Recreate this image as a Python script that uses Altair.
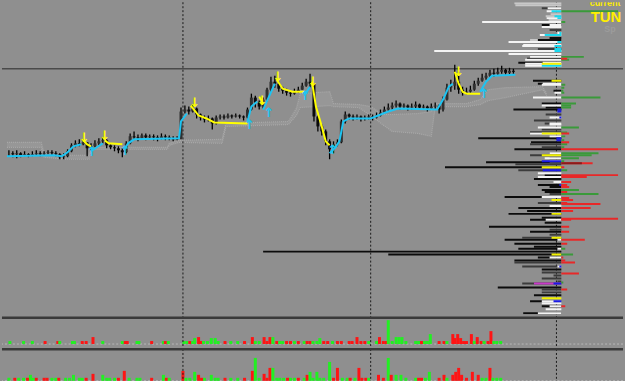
import altair as alt
import pandas as pd

# ---------------- data (price in points, time in slot units) ----------------
first_open = 168
close = [168,167,168,166,167,166,167,168,167,168,
         169,168,167,164,165,170,176,178,177,179,
         173,175,178,180,181,176,174,173,171,169,
         178,185,184,183,186,184,185,184,183,185,
         184,183,182,183,210,212,210,213,207,204,
         202,203,198,204,205,204,206,205,206,205,
         204,212,224,219,215,222,232,240,238,233,
         231,229,228,230,232,236,240,238,205,195,
         190,180,172,177,179,200,207,205,204,205,
         203,204,205,204,206,209,212,214,216,218,
         215,216,214,215,217,214,215,213,215,216,
         212,222,234,236,240,232,229,230,232,238,
         241,244,246,249,248,250,252,249,251,250]
high = [171,170,171,169,170,168,170,171,170,170,
        171,171,170,168,168,172,178,181,182,182,
        179,178,181,183,184,182,177,176,175,173,
        180,188,190,187,188,188,187,187,186,188,
        187,186,185,185,214,216,215,217,214,208,
        206,206,204,206,207,207,208,207,208,207,
        206,214,228,226,221,224,234,245,246,240,
        235,233,231,233,235,239,243,248,238,206,
        197,192,182,180,182,202,210,208,207,207,
        206,206,207,207,209,212,215,218,219,221,
        219,218,217,218,220,218,217,216,218,219,
        217,225,238,242,257,250,235,234,236,241,
        244,248,249,252,253,254,256,253,254,253]
low = [165,164,163,164,165,164,165,166,165,166,
       167,166,165,162,162,164,169,174,175,176,
       165,171,174,176,178,173,172,170,168,164,
       168,177,182,180,182,181,182,181,180,182,
       181,181,180,181,182,208,207,209,203,201,
       199,200,192,197,202,202,203,203,204,203,
       201,203,211,214,212,213,220,230,234,230,
       228,226,225,227,229,232,235,234,200,190,
       186,176,162,168,175,178,198,202,201,202,
       200,201,202,201,203,205,208,210,212,214,
       212,213,211,212,213,212,212,210,212,212,
       208,210,221,230,232,228,226,227,229,231,
       236,240,242,244,245,246,248,246,247,248]
candle_t = list(range(2, 522, 4))

# trailing line: (t, price, segment)
trail_points = [
    (0,165,0),(48,166,0),(56,165,0),(62,169,0),(68,175,0),(76,177,0),
    (78,181,1),(82,177,1),(86,175,1),
    (86,170,2),(92,174,2),(98,178,2),
    (100,181,3),(104,178,3),(118,177,3),
    (120,172,4),(124,178,4),(130,182,4),(176,183,4),(178,200,4),(184,208,4),
    (188,216,5),(196,206,5),(204,203,5),(212,199,5),(246,198,5),
    (246,200,6),(250,215,6),(256,220,6),
    (258,225,7),(262,218,7),
    (262,212,8),(268,225,8),(274,238,8),
    (276,242,9),(282,233,9),(292,230,9),(304,230,9),
    (304,226,10),(310,235,10),
    (312,240,11),(316,215,11),(322,195,11),(326,180,11),(330,176,11),
    (330,168,12),(336,174,12),(340,180,12),(344,200,12),(350,203,12),(372,203,12),
    (390,210,12),(400,213,12),(440,212,12),(446,222,12),(452,235,12),(456,238,12),
    (458,250,13),(462,238,13),(466,230,13),(470,228,13),(484,228,13),
    (484,230,14),(490,240,14),(496,246,14),(520,247,14),
]
trail_seg_color = ["#1ec4f2", "#ffff00"] * 7 + ["#1ec4f2"]

arrows_down = [(79,183),(100,185),(192,219),(261,221),(277,245),(313,240),(462,250)]
arrows_up = [(87,169),(121,170),(248,196),(268,208),(305,226),(333,171),(488,228)]

# cloud (t, span A, span B)
cloud_t = [0,35,38,60,84,86,164,166,176,220,224,288,296,300,330,334,360,372,384,394,420,434,438,470,484,492,510,548,552]
cloud_a = [179,179,168,166,166,174,174,178,181,182,198,200,213,228,230,218,217,215,207,207,208,210,218,218,222,232,234,235,228]
cloud_b = [174,174,164,162,162,172,172,176,179,178,195,197,206,214,216,215,214,206,197,190,188,185,215,215,217,221,224,232,226]

hline_price = [253]
vline_t = [180, 372, 562]
profile_edge = 567

# volume profile, left side: (price level, start)
prof_lightgray = [(319,519),(317,520),(308,556),(306,551),(302,554),(282,535)]
prof_black = [(297,547),(284,555),(282,543),(280,543),(263,532),(259,523),(241,538),(238,543),
              (231,559),(218,547),(214,551),(212,518),(189,535),(183,482),(179,536),(172,519),
              (163,555),(159,490),(154,448),(146,550),(142,539),(136,543),(134,555),(131,547),
              (129,550),(124,509),(113,523),(110,532),(107,513),(103,547),(101,535),(98,550),
              (94,493),(89,535),(81,509),(77,519),(74,539),(72,523),(69,262),(66,390),(63,543),
              (60,519),(51,547),(33,502),(25,539),(19,535),(14,547),(7,528)]
prof_darkgray = [(314,547),(292,555),(273,543),(207,551),(201,539),(198,550),(192,547),(177,535),
                 (174,547),(168,555),(166,535),(157,520),(151,523),(127,555),(118,543),(91,555),
                 (86,555),(83,527),(58,519),(54,527),(48,547),(45,559),(42,547),(39,563),(37,527),
                 (31,547),(28,547)]
prof_white = [(314,553),(311,552),(304,552),(300,486),(297,555),(295,547),(289,563),(287,545),
              (280,513),(277,528),(276,527),(271,437),(268,513),(265,535),(262,530),(259,548),
              (258,530),(256,530),(238,548),(237,547),(229,560),(224,538),(216,547),(204,555),
              (198,555),(197,555),(194,543),(188,535),(185,555),(168,555),(163,550),(160,555),
              (148,543),(144,543),(139,559),(124,547),(115,555),(101,551),(81,563),(72,563),
              (63,555),(54,563),(19,547),(17,547),(14,555),(11,551),(7,543)]
prof_cyan = [(311,557),(306,560),(304,563),(289,565),(287,550),(280,563),(276,560),(273,560),(271,560),(256,547)]
prof_yellow = [(258,547),(241,557),(188,547),(166,547),(154,547),(121,557),(107,557),(83,557),(66,557),(22,547)]
prof_magenta = [(37,539)]
prof_blue = [(212,563),(210,563),(204,565),(183,562),(181,562),(160,547),(151,548),(136,565),(54,565),(37,559),(19,559)]

# volume profile, right side: (price level, end)
prof_right_green = [(311,625),(300,571),(265,590),(262,575),(237,571),(234,570),(231,569),(229,570),
                    (224,607),(218,582),(216,577),(214,577),(194,585),(189,573),(185,571),(181,570),
                    (177,573),(174,570),(168,605),(166,598),(163,585),(160,570),(151,573),(131,585),
                    (127,605),(72,571),(66,579),(38,569)]
prof_right_red = [(263,573),(188,575),(179,575),(172,625),(158,599),(154,570),(146,625),(144,593),
                  (139,577),(136,573),(134,575),(129,573),(123,575),(121,579),(118,573),(117,607),
                  (113,597),(110,579),(102,625),(101,577),(94,575),(89,575),(81,591),(77,573),
                  (63,569),(60,571),(58,581),(47,585),(31,573),(14,571)]
prof_right_darkred = [(158,588)]

# volume histograms: (t, volume, direction)
vol1 = [(3,3,"g"),(17,3,"g"),(26,3,"g"),(39,3,"r"),(52,3,"r"),(54,3,"g"),(67,3,"g"),(69,3,"g"),
        (77,3,"r"),(81,3,"r"),(88,7,"r"),(98,3,"g"),(118,3,"g"),(121,3,"r"),(123,3,"r"),(133,3,"g"),
        (135,3,"g"),(148,3,"r"),(160,3,"g"),(162,3,"r"),(165,3,"g"),(181,3,"g"),(184,3,"g"),(187,3,"r"),
        (190,3,"g"),(192,6,"g"),(196,7,"r"),(198,3,"r"),(201,3,"g"),(205,3,"g"),(209,6,"g"),(213,6,"g"),
        (216,3,"g"),(223,3,"r"),(229,3,"g"),(236,3,"g"),(243,3,"r"),(251,7,"r"),(254,3,"g"),(258,3,"g"),
        (263,7,"r"),(266,3,"r"),(269,7,"r"),(272,7,"g"),(276,3,"r"),(279,3,"g"),(282,3,"g"),(286,3,"r"),
        (290,3,"r"),(294,3,"g"),(298,3,"r"),(304,3,"g"),(307,3,"r"),(310,3,"r"),(313,3,"g"),(317,3,"g"),
        (320,6,"g"),(324,3,"r"),(328,3,"r"),(333,3,"g"),(338,3,"r"),(342,3,"r"),(350,3,"r"),(353,3,"r"),
        (358,7,"r"),(362,3,"r"),(366,3,"r"),(370,3,"g"),(378,3,"g"),(381,7,"r"),(385,3,"r"),(388,3,"r"),
        (390,24,"g"),(394,3,"g"),(398,7,"g"),(401,7,"g"),(404,7,"g"),(408,3,"g"),(418,3,"g"),(421,3,"g"),
        (424,3,"r"),(427,3,"g"),(430,3,"g"),(433,10,"g"),(442,3,"r"),(447,3,"r"),(450,3,"g"),(456,10,"r"),
        (458,6,"r"),(461,10,"r"),(464,6,"r"),(467,3,"r"),(470,3,"r"),(475,10,"r"),(478,3,"g"),(481,7,"r"),
        (485,3,"r"),(488,3,"g"),(492,3,"r"),(495,13,"r"),(498,3,"g"),(501,3,"g"),(505,3,"g")]
vol2 = [(2,3,"g"),(8,3,"r"),(12,3,"g"),(17,3,"g"),(21,3,"r"),(24,6,"g"),(27,3,"g"),(30,3,"r"),
        (38,3,"r"),(41,3,"r"),(46,3,"g"),(50,3,"g"),(53,3,"r"),(60,3,"g"),(64,3,"g"),(68,6,"g"),
        (74,3,"g"),(77,3,"g"),(81,3,"r"),(88,7,"r"),(98,6,"g"),(102,3,"g"),(105,3,"g"),(110,3,"g"),
        (114,3,"r"),(120,10,"r"),(125,3,"g"),(133,3,"g"),(136,3,"g"),(148,3,"r"),(160,6,"g"),(163,3,"r"),
        (166,3,"g"),(180,10,"r"),(183,3,"g"),(187,3,"g"),(192,9,"g"),(196,6,"r"),(199,3,"r"),(202,3,"g"),
        (209,6,"g"),(213,3,"g"),(216,3,"g"),(223,3,"r"),(229,3,"g"),(236,3,"g"),(243,3,"r"),(251,10,"r"),
        (254,23,"g"),(258,3,"g"),(263,7,"r"),(266,3,"r"),(269,13,"r"),(272,13,"g"),(276,3,"g"),(279,3,"g"),
        (283,3,"g"),(287,3,"r"),(290,3,"g"),(294,3,"g"),(298,3,"r"),(304,3,"g"),(307,6,"r"),(310,9,"g"),
        (313,3,"g"),(317,9,"g"),(320,3,"g"),(324,3,"g"),(330,19,"g"),(334,3,"r"),(338,13,"r"),(343,3,"g"),
        (348,3,"g"),(351,3,"r"),(356,3,"g"),(360,13,"r"),(363,3,"r"),(367,3,"r"),(370,3,"g"),(380,6,"r"),
        (385,3,"r"),(390,23,"g"),(393,6,"r"),(398,6,"g"),(403,6,"g"),(408,3,"g"),(418,3,"g"),(421,3,"r"),
        (424,3,"r"),(428,3,"g"),(432,9,"g"),(442,3,"r"),(447,6,"r"),(450,3,"g"),(456,6,"r"),(459,9,"r"),
        (462,13,"r"),(465,6,"r"),(470,3,"r"),(476,9,"r"),(482,6,"r"),(486,3,"g"),(490,3,"g"),(494,13,"r"),
        (497,3,"g"),(501,3,"g"),(505,3,"g")]

labels = [("current", 596, 316, "#ffee00", 9), ("TUN", 597, 300, "#ffee00", 15), ("Sp", 611, 290, "#9c9c9c", 9)]

# ---------------- chart ----------------
BG = "#8f8f8f"
W = 625
xs = alt.Scale(domain=[0, 625], nice=False, zero=False)
ys = alt.Scale(domain=[6, 320], nice=False, zero=False)


def X(f):
    return alt.X(f, type="quantitative", scale=xs, axis=None)


def Y(f, s=ys):
    return alt.Y(f, type="quantitative", scale=s, axis=None)


opens = [first_open] + close[:-1]
cdf = pd.DataFrame({"t": candle_t, "o": opens, "c": close, "h": high, "l": low})
cdf["h"] = cdf[["h", "o", "c"]].max(axis=1)
cdf["l"] = cdf[["l", "o", "c"]].min(axis=1)
cdf["col"] = ["#303030" if c >= o else "#0a0a0a" for o, c in zip(cdf["o"], cdf["c"])]

cloud_df = pd.DataFrame({"t": cloud_t, "a": cloud_a, "b": cloud_b})
cloud_area = alt.Chart(cloud_df).mark_area(color="#a2a2a2", opacity=0.45).encode(
    x=X("t"), y=Y("a"), y2="b")
cloud_l1 = alt.Chart(cloud_df).mark_line(color="#a9a9a9", strokeWidth=1.2, strokeDash=[1, 1]).encode(
    x=X("t"), y=Y("a"))
cloud_l2 = alt.Chart(cloud_df).mark_line(color="#a9a9a9", strokeWidth=1.2, strokeDash=[1, 1]).encode(
    x=X("t"), y=Y("b"))

hline = alt.Chart(pd.DataFrame({"p": hline_price})).mark_rule(color="#4a4a4a", strokeWidth=1.5).encode(y=Y("p"))

vl_df = pd.DataFrame({"t": vline_t})


def vlines():
    return alt.Chart(vl_df).mark_rule(color="#1a1a1a", strokeWidth=1, strokeDash=[2, 2]).encode(x=X("t"))


wick = alt.Chart(cdf).mark_rule(color="#000000", strokeWidth=1.3).encode(x=X("t"), y=Y("l"), y2="h")
body = alt.Chart(cdf).mark_bar(size=3).encode(x=X("t"), y=Y("o"), y2="c",
                                               color=alt.Color("col:N", scale=None))

tdf = pd.DataFrame(trail_points, columns=["t", "p", "seg"])
tdf["col"] = [trail_seg_color[s] for s in tdf["seg"]]
trail = alt.Chart(tdf).mark_line(strokeWidth=2).encode(
    x=X("t"), y=Y("p"), detail="seg:N", color=alt.Color("col:N", scale=None))

ad = pd.DataFrame(arrows_down, columns=["t", "p"])
au = pd.DataFrame(arrows_up, columns=["t", "p"])
arr_d = alt.Chart(ad).mark_text(text="↓", color="#ffff00", fontSize=13, fontWeight="bold",
                                font="DejaVu Sans", baseline="middle").encode(x=X("t"), y=Y("p"))
arr_u = alt.Chart(au).mark_text(text="↑", color="#1ec4f2", fontSize=13, fontWeight="bold",
                                font="DejaVu Sans", baseline="middle").encode(x=X("t"), y=Y("p"))

rows = []
for lst, col in [(prof_lightgray, "#c8c8c8"), (prof_black, "#0c0c0c"), (prof_darkgray, "#3c3c3c"),
                 (prof_white, "#f4f4f4"), (prof_cyan, "#18d8ee"), (prof_yellow, "#f2f200"),
                 (prof_magenta, "#c838c8"), (prof_blue, "#1a1ae6")]:
    for lev, st in lst:
        rows.append({"p": lev, "x1": st, "x2": profile_edge, "col": col})
for lst, col in [(prof_right_green, "#3a9a3a"), (prof_right_red, "#e82828"), (prof_right_darkred, "#8a1a1a")]:
    for lev, en in lst:
        rows.append({"p": lev, "x1": profile_edge, "x2": en, "col": col})
pdf = pd.DataFrame(rows)
profile = alt.Chart(pdf).mark_rule(strokeWidth=2, clip=True).encode(
    x=X("x1"), x2="x2", y=Y("p"), color=alt.Color("col:N", scale=None))

ldf = pd.DataFrame(labels, columns=["txt", "t", "p", "col", "fs"])
texts = [alt.Chart(ldf.iloc[[i]]).mark_text(
            align="left", baseline="alphabetic", font="Liberation Sans", fontWeight="bold",
            fontSize=int(r.fs), color=r.col, clip=True).encode(x=X("t"), y=Y("p"), text="txt:N")
         for i, r in enumerate(ldf.itertuples())]

main = alt.layer(cloud_area, cloud_l1, cloud_l2, hline, vlines(), profile, wick, body, trail,
                 arr_d, arr_u, *texts).properties(width=W, height=314)


def vol_panel(data, h, lo, hi, top_sep, bottom_sep=None):
    ysc = alt.Scale(domain=[lo, hi], nice=False, zero=False)
    vdf = pd.DataFrame(data, columns=["t", "v", "d"])
    vdf["col"] = ["#22f022" if d == "g" else "#ff1414" for d in vdf["d"]]
    base = alt.Chart(pd.DataFrame({"z": [0]})).mark_rule(
        color="#b8b8b8", strokeWidth=1, strokeDash=[2, 2]).encode(y=Y("z", ysc))
    bars = alt.Chart(vdf).mark_bar(size=3).encode(
        x=X("t"), y=Y("v", ysc), y2=alt.datum(0), color=alt.Color("col:N", scale=None))
    seps = [top_sep] + ([bottom_sep] if bottom_sep is not None else [])
    sep = alt.Chart(pd.DataFrame({"s": seps})).mark_rule(color="#3a3a3a", strokeWidth=2.5).encode(
        y=Y("s", ysc))
    return alt.layer(base, bars, vlines(), sep).properties(width=W, height=h)


v1 = vol_panel(vol1, 30, -2, 28, 26.4)
v2 = vol_panel(vol2, 37, -5, 32, 31.8, -3.3)

chart = alt.vconcat(main, v1, v2, spacing=0).configure(
    background=BG, padding=0).configure_view(stroke=None).configure_concat(spacing=0)

chart.save("out.html", embed_options={"renderer": "svg", "actions": False})
